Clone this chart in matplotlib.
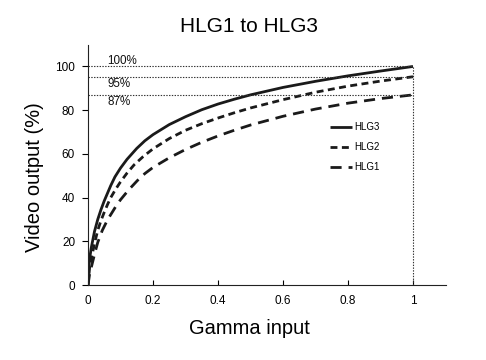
import matplotlib
matplotlib.use("Agg")
import matplotlib.pyplot as plt

plt.rcParams['font.family'] = ['Liberation Sans', 'DejaVu Sans']
plt.rcParams['lines.scale_dashes'] = False

# Data
hlg3_x = [0, 0.0025, 0.005, 0.01, 0.02, 0.03, 0.04, 0.05, 0.06, 0.07, 0.083, 0.1, 0.12, 0.15,
          0.175, 0.2, 0.25, 0.3, 0.35, 0.4, 0.45, 0.5, 0.6, 0.7, 0.8, 0.9, 1.0]
hlg3_y = [0, 8.5, 12, 17, 24.5, 30, 34.5, 38.5, 42, 45.5, 49.5, 53.5, 57.5, 62.5,
          66, 68.8, 73.4, 77, 80.2, 82.8, 85, 87, 90.4, 93.2, 95.7, 97.9, 100]

hlg2_x = [0, 0.005, 0.01, 0.02, 0.03, 0.04, 0.05, 0.06, 0.07, 0.085, 0.1, 0.12, 0.142, 0.17,
          0.2, 0.25, 0.3, 0.35, 0.4, 0.45, 0.5, 0.6, 0.7, 0.8, 0.9, 1.0]
hlg2_y = [0, 8, 12, 19, 25, 29.5, 33.3, 36.8, 40, 43.8, 47.2, 51.2, 55, 58.8,
          62.3, 67, 70.8, 73.8, 76.4, 78.8, 81, 84.8, 88.2, 91, 93.3, 95.3]

hlg1_x = [0, 0.005, 0.01, 0.02, 0.03, 0.044, 0.06, 0.085, 0.1, 0.125, 0.152, 0.175, 0.2,
          0.25, 0.3, 0.35, 0.4, 0.45, 0.5, 0.6, 0.7, 0.8, 0.9, 1.0]
hlg1_y = [0, 5, 8, 14, 19.5, 25, 29.8, 35.8, 39, 43.5, 47.8, 51, 53.8,
          58.2, 62, 65.3, 68.2, 70.8, 73.2, 77.2, 80.5, 83.2, 85.3, 87]

ref_levels = [100, 95.3, 87]
ref_labels = ['100%', '95%', '87%']
ref_label_y = [102.5, 91.8, 83.6]

x_ticks = [0, 0.2, 0.4, 0.6, 0.8, 1]
x_ticklabels = ['0', '0.2', '0.4', '0.6', '0.8', '1']
y_ticks = [0, 20, 40, 60, 80, 100]

fig = plt.figure(figsize=(4.86, 3.6), dpi=100)
ax = fig.add_axes([88/486, 1-285/360, 357.5/486, 240.4/360])

lw = 2.0
ax.plot(hlg3_x, hlg3_y, color='#1a1a1a', lw=lw, label='HLG3', solid_capstyle='butt')
ax.plot(hlg2_x, hlg2_y, color='#1a1a1a', lw=lw, dashes=(5, 3.2), label='HLG2')
ax.plot(hlg1_x, hlg1_y, color='#1a1a1a', lw=lw, dashes=(8, 5), label='HLG1')

for lev, lab, ly in zip(ref_levels, ref_labels, ref_label_y):
    ax.plot([0, 1], [lev, lev], color='#333333', lw=0.8, ls=(0, (1, 1)))
    ax.text(0.06, ly, lab, fontsize=8.4, va='center', ha='left', color='#111111')
ax.plot([1, 1], [0, 100], color='#333333', lw=0.8, ls=(0, (1, 1)))

ax.set_xlim(0, 1.1)
ax.set_ylim(0, 110)
ax.set_xticks(x_ticks)
ax.set_xticklabels(x_ticklabels)
ax.set_yticks(y_ticks)

for s in ['top', 'right']:
    ax.spines[s].set_visible(False)
for s in ['left', 'bottom']:
    ax.spines[s].set_linewidth(0.8)
    ax.spines[s].set_color('#222222')

ax.tick_params(axis='x', direction='in', length=3.5, width=0.8, pad=7.5, labelsize=8.5)
ax.tick_params(axis='y', direction='out', length=4.3, width=0.8, pad=5, labelsize=8.5)

ax.set_xlabel('Gamma input', fontsize=14.5)
ax.xaxis.set_label_coords((249-88)/357.5, (285-328)/240.4)
ax.xaxis.label.set_va('center')
ax.set_ylabel('Video output (%)', fontsize=14.5)
ax.yaxis.set_label_coords((35-88)/357.5, (285-177)/240.4)
ax.yaxis.label.set_va('center')

fig.text(249/486, 1-26.7/360, 'HLG1 to HLG3', fontsize=15, ha='center', va='center')

ax.legend(loc='upper left', bbox_to_anchor=((330-88)/357.5, (285-122)/240.4),
          frameon=False, fontsize=7, handlelength=2.3, handletextpad=0.2,
          labelspacing=1.05, borderpad=0, borderaxespad=0)

fig.savefig('out.png', dpi=100)
